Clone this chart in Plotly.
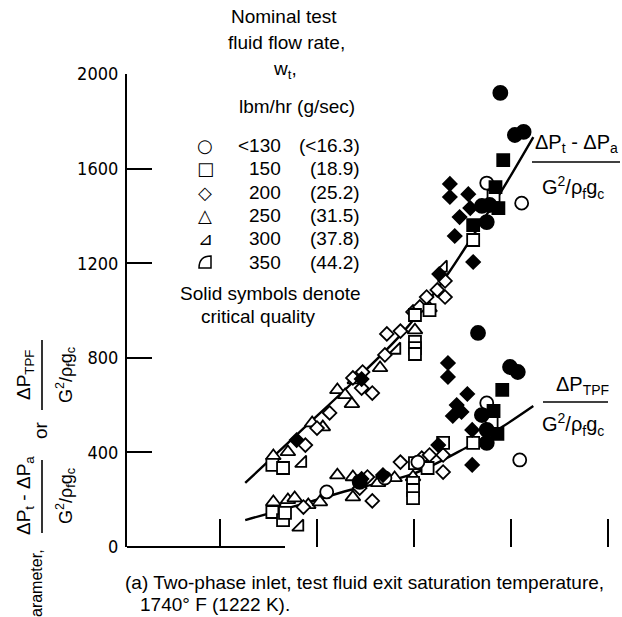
import plotly.graph_objects as go

# ---------------- data ----------------
# x: position along the (unlabelled) abscissa, in tick units (ticks at 1..5)
# y: correlating parameter
fit_upper_x = [1.26, 1.82, 2.34, 2.86, 3.27, 3.58, 3.89, 4.23]
fit_upper_y = [271, 486, 685, 896, 1108, 1298, 1497, 1733]
fit_lower_x = [1.26, 1.82, 2.34, 2.99, 3.55, 3.89, 4.23]
fit_lower_y = [114, 178, 241, 309, 423, 503, 596]

# <130 lbm/hr
open_circle_x = [3.75, 4.11, 2.10, 2.70, 3.04, 3.75, 4.09]
open_circle_y = [1539, 1454, 233, 292, 359, 609, 368]
filled_circle_x = [3.70, 3.78, 3.75, 3.89, 4.04, 4.13, 3.66, 3.99, 4.07, 3.70, 3.75, 3.75, 2.44]
filled_circle_y = [1442, 1446, 1374, 1920, 1742, 1755, 905, 761, 740, 558, 495, 440, 275]
# 150 lbm/hr
open_square_x = [1.54, 1.65, 3.01, 3.01, 3.01, 3.01, 3.16, 3.61, 3.82,
                 1.54, 1.65, 1.67, 3.01, 2.99, 2.99, 2.99, 3.14, 3.30, 3.61, 3.80]
open_square_y = [347, 334, 867, 841, 816, 981, 1002, 1298, 1484,
                 148, 114, 144, 355, 271, 241, 207, 334, 440, 440, 528]
filled_square_x = [3.92, 3.84, 3.87, 3.61, 3.91, 3.82, 3.86]
filled_square_y = [1636, 1522, 1433, 1361, 664, 575, 478]
# 200 lbm/hr
open_diamond_x = [1.88, 2.00, 2.13, 2.37, 2.47, 2.46, 2.57, 2.70, 2.72, 2.86, 2.99, 3.06, 3.13,
                  3.24, 3.32, 3.32, 1.86, 2.44, 2.52, 2.57, 2.68, 2.86, 3.08, 3.16, 3.30, 3.30]
open_diamond_y = [431, 503, 567, 715, 740, 672, 651, 812, 901, 913, 994, 1015, 1057,
                  1087, 1057, 1125, 169, 249, 296, 195, 296, 359, 376, 389, 389, 317]
filled_diamond_x = [1.79, 2.46, 3.26, 3.37, 3.37, 3.56, 3.58, 3.47, 3.42, 3.61,
                    2.46, 2.68, 3.25, 3.35, 3.35, 3.55, 3.44, 3.49, 3.40, 3.60, 3.60]
filled_diamond_y = [452, 710, 1154, 1535, 1480, 1492, 1433, 1395, 1315, 1205,
                    288, 304, 431, 778, 719, 647, 600, 571, 554, 495, 347]
# 250 lbm/hr
open_tri_x = [1.55, 1.70, 1.95, 2.06, 2.21, 2.29, 2.36, 2.39, 2.65, 3.01, 3.16,
              1.55, 1.70, 1.77, 1.91, 2.03, 2.21, 2.37, 2.37, 2.63, 2.80, 2.99]
open_tri_y = [385, 402, 524, 507, 664, 643, 605, 706, 757, 917, 1010,
              190, 199, 207, 178, 190, 304, 296, 211, 271, 292, 296]
# 300 lbm/hr
right_tri_x = [1.85, 2.82, 3.30, 1.82]
right_tri_y = [355, 833, 1180, 85]

y_ticks = [0, 400, 800, 1200, 1600, 2000]
x_ticks = [1, 2, 3, 4, 5]

legend_glyphs = ["○", "□", "◇", "△", "⊿", ""]
flow_lbm = ["<130", "150", "200", "250", "300", "350"]
flow_gs = ["(<16.3)", "(18.9)", "(25.2)", "(31.5)", "(37.8)", "(44.2)"]

# ---------------- figure ----------------
W, H = 622, 617
L, T, B = 127, 74, 70
MAIN = "Liberation Sans, Arial, sans-serif"
NARROW = "DejaVu Sans Condensed, Liberation Sans Narrow, Arial Narrow, sans-serif"


def px(x):
    return (x - L) / (W - L)


def py(y):
    return (H - B - y) / (H - B - T)


fig = go.Figure()

for xs, ys in [(fit_upper_x, fit_upper_y), (fit_lower_x, fit_lower_y)]:
    fig.add_trace(go.Scatter(x=xs, y=ys, mode="lines", line=dict(color="black", width=2.4, shape="spline"),
                             hoverinfo="skip", showlegend=False))

def pts(xs, ys, symbol, size, fill):
    fig.add_trace(go.Scatter(
        x=xs, y=ys, mode="markers", showlegend=False, cliponaxis=False,
        marker=dict(symbol=symbol, size=size, color=fill,
                    line=dict(color="black", width=1.8))))

pts(open_tri_x, open_tri_y, "triangle-up", 13, "white")
pts(right_tri_x, right_tri_y, "triangle-se", 12.5, "white")
pts(open_diamond_x, open_diamond_y, "diamond", 10.5, "white")
pts(open_square_x, open_square_y, "square", 12, "white")
pts(open_circle_x, open_circle_y, "circle", 13, "white")
pts(filled_diamond_x, filled_diamond_y, "diamond", 10.5, "black")
pts(filled_square_x, filled_square_y, "square", 12, "black")
pts(filled_circle_x, filled_circle_y, "circle", 14, "black")

ann = []


def txt(s, x, y, size=19, xa="center", ya="middle", angle=0, family=MAIN):
    ann.append(dict(text=s, x=px(x), y=py(y), xref="paper", yref="paper", xanchor=xa, yanchor=ya,
                    showarrow=False, textangle=angle, font=dict(family=family, size=size, color="black")))


# legend block
txt("Nominal test", 284, 17)
txt("fluid flow rate,", 286, 43)
txt("w<sub>t</sub>,", 285, 70)
txt("lbm/hr (g/sec)", 297, 106)
rows = [145, 168, 192, 215, 238, 262]
for g, a, b, yy in zip(legend_glyphs, flow_lbm, flow_gs, rows):
    if g:
        txt(g, 205, yy, size=18, family="DejaVu Sans, sans-serif")
    txt(a, 283, yy, xa="right")
    txt(b, 362, yy, xa="right")
txt("Solid symbols denote", 270, 293)
txt("critical quality", 258, 316)

# right-hand curve labels
txt("ΔP<sub>t</sub> - ΔP<sub>a</sub>", 576, 143, size=20)
txt("G<sup>2</sup>/ρ<sub>f</sub>g<sub>c</sub>", 573, 188, size=20)
txt("ΔP<sub>TPF</sub>", 582, 386, size=20)
txt("G<sup>2</sup>/ρ<sub>f</sub>g<sub>c</sub>", 573, 424, size=20)

# rotated axis title
txt("ΔP<sub>TPF</sub>", 25, 375, size=19, angle=-90)
txt("G<sup>2</sup>/ρ<sub>f</sub>g<sub>c</sub>", 65, 375, size=18, angle=-90)
txt("or", 40, 430, size=19, angle=-90)
txt("ΔP<sub>t</sub> - ΔP<sub>a</sub>", 25, 496, size=19, angle=-90)
txt("G<sup>2</sup>/ρ<sub>f</sub>g<sub>c</sub>", 65, 496, size=18, angle=-90)
txt("arameter,", 36, 547, size=16, angle=-90, ya="top")

# caption
txt("(a) Two-phase inlet, test fluid exit saturation temperature,", 123, 582, xa="left")
txt("1740° F (1222 K).", 138, 604, xa="left")

shapes = []


def seg(x0, y0, x1, y1, w=1.6):
    shapes.append(dict(type="line", xref="paper", yref="paper", x0=px(x0), y0=py(y0), x1=px(x1), y1=py(y1),
                       line=dict(color="black", width=w)))


seg(532, 162, 620, 162)
seg(543, 402, 608, 402)
seg(42, 340, 42, 410)
seg(42, 460, 42, 533)
seg(127, 547, 285, 547, 2)

# 350 lbm/hr legend key (rounded right-triangle)
k0, k1, t0, t1 = 199, 211, 268, 256
shapes.append(dict(type="path", xref="paper", yref="paper",
                   path=f"M{px(k0)},{py(t0)} L{px(k1)},{py(t0)} L{px(k1)},{py(t1)} Q{px(k0)},{py(t1)} {px(k0)},{py(t0)} Z",
                   line=dict(color="black", width=1.5)))

fig.update_layout(
    width=W, height=H, margin=dict(l=L, r=0, t=T, b=B),
    paper_bgcolor="white", plot_bgcolor="white",
    annotations=ann, shapes=shapes, showlegend=False,
    xaxis=dict(range=[(L - 123) / 97, (W - 123) / 97], tickvals=x_ticks, showticklabels=False,
               ticks="inside", ticklen=28, tickwidth=2, tickcolor="black",
               showgrid=False, zeroline=False, showline=False),
    yaxis=dict(range=[0, 2000], tickvals=y_ticks, ticks="inside", ticklen=25, tickwidth=2,
               tickcolor="black", showline=True, linecolor="black", linewidth=2.2,
               showgrid=False, zeroline=False, ticklabelstandoff=3,
               tickfont=dict(family=NARROW, size=18, color="black")),
)

fig.write_html("out.html")
